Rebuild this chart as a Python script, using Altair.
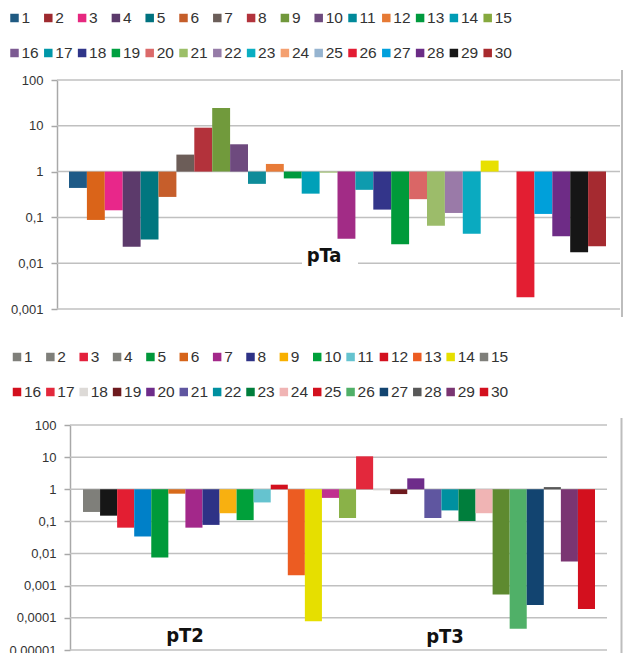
import altair as alt
import pandas as pd

# ---------------- data ----------------
categories = list(range(1, 31))

pta_values = [0.44, 0.088, 0.143, 0.023, 0.033, 0.28, 2.35, 9.1, 24.6, 3.95,
              0.54, 1.47, 0.71, 0.33, 0.95, 0.034, 0.40, 0.148, 0.026, 0.25,
              0.066, 0.125, 0.044, 1.74, 1.0, 0.0018, 0.119, 0.039, 0.0174, 0.0234]
pta_bar_colors = ["#1E5A87", "#DA6419", "#E8278A", "#5C3A6B", "#00767F", "#C65E2B",
                  "#6C5D58", "#B3323B", "#719A3C", "#6E4A7E", "#0E8C9A", "#E87B38",
                  "#009A3E", "#00A0B8", "#9CC068", "#A22C86", "#0E9BAE", "#33358A",
                  "#009A3A", "#DA6666", "#9CBC6A", "#9A7AA8", "#0AAAC0", "#E8E000",
                  "#96B4D0", "#E31E32", "#00A0DA", "#6E2C86", "#161616", "#A52A30"]
pta_legend_colors = ["#1F5A82", "#9E2A2F", "#E6287F", "#5B3A6B", "#00727F", "#C55E2A",
                     "#6B5E59", "#B2333C", "#71983C", "#6E4A7E", "#00899A", "#E67A35",
                     "#009A3E", "#009CB5", "#86A93E", "#7C5A92", "#0097A8", "#2F3589",
                     "#00A040", "#DB6A6A", "#9CBF68", "#967CA8", "#0AAEC2", "#F4A070",
                     "#96B4D0", "#E31C33", "#00A0DC", "#6B2C86", "#161616", "#A82A2E"]

pt23_values = [0.197, 0.151, 0.064, 0.034, 0.0076, 0.73, 0.064, 0.078, 0.18, 0.11,
               0.39, 1.39, 0.0021, 0.000078, 0.54, 0.128, 10.6, 0.92, 0.71, 2.19,
               0.128, 0.22, 0.103, 0.18, 0.00053, 0.000046, 0.00025, 1.17, 0.0057, 0.00019]
pt23_bar_colors = ["#7F7F7A", "#161616", "#E31E32", "#0080C8", "#009A3A", "#D86A1A",
                   "#A3288A", "#2E3286", "#F8B010", "#00A03A", "#65C3CF", "#D3101E",
                   "#EC5C22", "#E6DF00", "#C0308F", "#8AB248", "#E3283C", "#DDDAD7",
                   "#6E1A1E", "#6E2C8A", "#5F56A0", "#0090A0", "#007E3C", "#F0B4B4",
                   "#5E8A30", "#50B068", "#124470", "#585858", "#7A3572", "#D3101E"]
pt23_legend_colors = ["#7F7F7A", "#7F7F7A", "#E3203C", "#7F7F7A", "#00973A", "#D6641A",
                      "#A3288A", "#2E3286", "#F8B000", "#00A03A", "#65C3CF", "#D3101E",
                      "#EC5C22", "#E6DF00", "#7F7F7A", "#D3101E", "#E3283C", "#DDDAD7",
                      "#6E1A1E", "#6E2C8A", "#5F56A0", "#0090A0", "#007E3C", "#F0B4B4",
                      "#D3101E", "#50B068", "#124470", "#585858", "#7A3572", "#D3101E"]

pta_ticks = [0.001, 0.01, 0.1, 1, 10, 100]
pt23_ticks = [0.00001, 0.0001, 0.001, 0.01, 0.1, 1, 10, 100]

# ---------------- styling ----------------
GRID = "#C0C0C0"
AXIS = "#A8A8A8"
TXT = "#333333"
FONT = "Liberation Sans, Arial, sans-serif"
BOLDFONT = "Liberation Sans Narrow, DejaVu Sans Condensed, Liberation Sans, sans-serif"
LABEL_EXPR = "replace(toString(datum.value), '.', ',')"


def panel(values, colors, ticks, ydomain, yrange, xrange, axis_x, grid_x2, labels):
    df = pd.DataFrame({"cat": categories, "value": values, "color": colors})
    grid_df = pd.DataFrame({"value": ticks})
    yscale = alt.Scale(type="log", domain=ydomain, range=yrange)
    yaxis = alt.Axis(orient="left", offset=-axis_x, values=ticks, labelExpr=LABEL_EXPR,
                     grid=False, tickSize=6, tickColor=AXIS, tickWidth=1.5,
                     domainColor=AXIS, domainWidth=1.5, labelFont=FONT,
                     labelFontSize=13, labelColor=TXT, labelPadding=8, title=None)
    grid = alt.Chart(grid_df).mark_rule(color=GRID, strokeWidth=1.5).encode(
        y=alt.Y("value:Q", scale=yscale, axis=yaxis),
        x=alt.value(axis_x), x2=alt.value(grid_x2))
    bars = alt.Chart(df).mark_bar().encode(
        x=alt.X("cat:O", scale=alt.Scale(range=xrange, paddingInner=0, paddingOuter=0),
                axis=None),
        y=alt.Y("value:Q", scale=yscale, axis=yaxis),
        y2=alt.datum(1),
        color=alt.Color("color:N", scale=None))
    layers = [grid]
    for lab in labels:
        ldf = pd.DataFrame({"t": [lab["text"]]})
        if lab.get("mask"):
            mx0, mx1, my0, my1 = lab["mask"]
            layers.append(alt.Chart(ldf).mark_rect(color="white").encode(
                x=alt.value(mx0), x2=alt.value(mx1), y=alt.value(my0), y2=alt.value(my1)))
    layers.append(bars)
    for lab in labels:
        ldf = pd.DataFrame({"t": [lab["text"]]})
        layers.append(alt.Chart(ldf).mark_text(
            font=BOLDFONT, fontWeight="bold", fontSize=20, color="#111111",
            align="center", baseline="alphabetic").encode(
            x=alt.value(lab["x"]), y=alt.value(lab["y"]), text="t:N"))
    return alt.layer(*layers)


def legend(colors, xrange, yrange):
    df = pd.DataFrame({
        "col": [i % 15 for i in range(30)],
        "row": [i // 15 for i in range(30)],
        "label": [str(c) for c in categories],
        "color": colors,
    })
    xs = alt.Scale(domain=[0, 14], range=xrange)
    ys = alt.Scale(domain=[0, 1], range=yrange)
    sq = alt.Chart(df).mark_square(size=72, opacity=1).encode(
        x=alt.X("col:Q", scale=xs, axis=None),
        y=alt.Y("row:Q", scale=ys, axis=None),
        color=alt.Color("color:N", scale=None))
    tx = alt.Chart(df).mark_text(align="left", baseline="middle", dx=7,
                                 fontSize=15.5, font=FONT, color=TXT).encode(
        x=alt.X("col:Q", scale=xs, axis=None),
        y=alt.Y("row:Q", scale=ys, axis=None),
        text="label:N")
    return alt.layer(sq, tx)


def frame(x, y0, y1):
    return alt.Chart(pd.DataFrame({"a": [0]})).mark_rule(color="#BDBDBD", strokeWidth=2).encode(
        x=alt.value(x), y=alt.value(y0), y2=alt.value(y1))


panel1 = panel(pta_values, pta_bar_colors, pta_ticks, [0.001, 100], [301, 72], [61, 598],
               49, 612, [{"text": "pTa", "x": 316, "y": 254, "mask": (294, 350, 249, 262)}])
panel2 = panel(pt23_values, pt23_bar_colors, pt23_ticks, [0.00001, 100], [642, 417], [75, 587],
               62, 599, [{"text": "pT2", "x": 177, "y": 634}, {"text": "pT3", "x": 437, "y": 635}])

legend1 = legend(pta_legend_colors, [6.5, 479.7], [10, 45])
legend2 = legend(pt23_legend_colors, [9, 476], [349, 384])

chart = alt.layer(
    panel1, panel2, legend1, legend2,
    frame(614, 62, 309), frame(613.5, 410, 645)
).resolve_scale(x="independent", y="independent").properties(
    width=615, height=645, padding=0,
    autosize=alt.AutoSizeParams(type="none"),
    background="white",
).configure_view(stroke=None)

chart.save("out.html", embed_options={"renderer": "svg", "actions": False})
